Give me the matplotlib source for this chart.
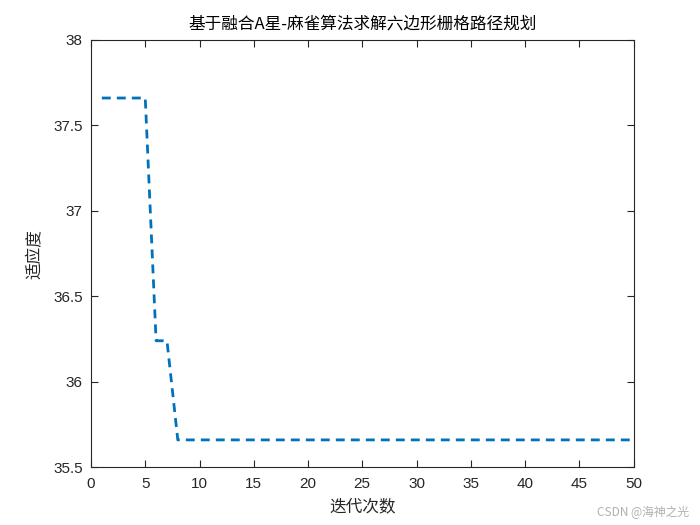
import matplotlib
matplotlib.use("Agg")
import matplotlib.pyplot as plt

plt.rcParams['font.family'] = ['Liberation Sans', 'Noto Sans CJK SC', 'DejaVu Sans']

# fitness per iteration
iterations = list(range(1, 51))
fitness = [37.66, 37.66, 37.66, 37.66, 37.66,
           36.24, 36.24,
           35.66, 35.66, 35.66, 35.66, 35.66, 35.66, 35.66, 35.66, 35.66, 35.66,
           35.66, 35.66, 35.66, 35.66, 35.66, 35.66, 35.66, 35.66, 35.66, 35.66,
           35.66, 35.66, 35.66, 35.66, 35.66, 35.66, 35.66, 35.66, 35.66, 35.66,
           35.66, 35.66, 35.66, 35.66, 35.66, 35.66, 35.66, 35.66, 35.66, 35.66,
           35.66, 35.66, 35.66]

x_ticks = [0, 5, 10, 15, 20, 25, 30, 35, 40, 45, 50]
y_ticks = [35.5, 36, 36.5, 37, 37.5, 38]
y_tick_labels = ['35.5', '36', '36.5', '37', '37.5', '38']

title = '基于融合A星-麻雀算法求解六边形栅格路径规划'
x_label = '迭代次数'
y_label = '适应度'

cjk = ['Noto Sans CJK SC', 'DejaVu Sans']
text_color = '#262626'

figure = plt.figure(figsize=(7, 5.25), dpi=100)
axes = figure.add_axes([0.13, 0.11, 0.775, 0.814])

axes.plot(iterations, fitness, color='#0072BD', linewidth=2, linestyle=(0, (3.2, 2.2)))

axes.set_xlim(0, 50)
axes.set_ylim(35.5, 38)
axes.set_xticks(x_ticks)
axes.set_yticks(y_ticks)
axes.set_yticklabels(y_tick_labels)
axes.tick_params(direction='in', top=True, right=True, length=5, width=0.8,
                 labelsize=11, colors=text_color, labelcolor=text_color)
axes.tick_params(axis='x', pad=7)
axes.tick_params(axis='y', pad=6)
for spine in axes.spines.values():
    spine.set_color(text_color)
    spine.set_linewidth(0.8)

axes.set_title(title, family=cjk, fontsize=12, color='#000000', pad=8)
axes.set_xlabel(x_label, family=cjk, fontsize=12, color=text_color, labelpad=5)
axes.set_ylabel(y_label, family=cjk, fontsize=12, color=text_color, labelpad=7)

figure.text(0.985, 0.012, 'CSDN @海神之光', family=cjk, fontsize=8.5,
            color='#b0b0b0', ha='right', va='bottom')

figure.savefig('out.png', dpi=100, facecolor='white')
